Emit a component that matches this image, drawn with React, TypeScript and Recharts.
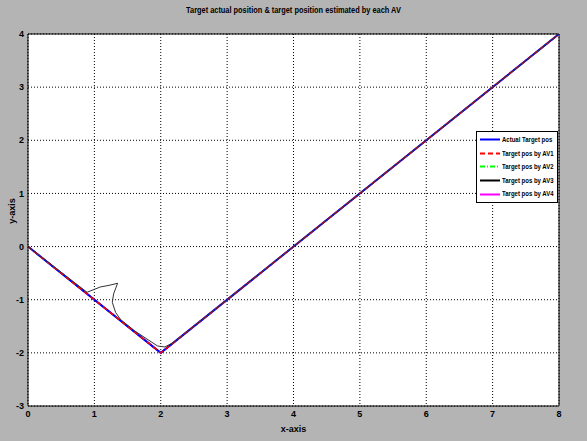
import {
  LineChart,
  Line,
  XAxis,
  YAxis,
  CartesianGrid,
  Legend,
  ReferenceLine,
} from "recharts";

const FONT = "'Liberation Sans Narrow', 'Arial Narrow', 'Liberation Sans', Arial, sans-serif";

// actual target path
const actualX = [0, 2, 8];
const actualY = [0, -2, 4];
// AV1 / AV2 / AV4 estimates sit on the actual path
const av1X = [0, 2, 8];
const av1Y = [0, -2, 4];
const av2X = [0, 2, 8];
const av2Y = [0, -2, 4];
const av4X = [0, 2, 8];
const av4Y = [0, -2, 4];
// AV3 has a detour near x=1
const av3X = [0, 0.89, 1.09, 1.22, 1.35, 1.29, 1.27, 1.32, 1.4, 1.6, 1.95, 2.06, 2.2, 8];
const av3Y = [0, -0.86, -0.76, -0.73, -0.69, -0.89, -1.05, -1.24, -1.38, -1.58, -1.87, -1.89, -1.8, 4];

const xTicks = [0, 1, 2, 3, 4, 5, 6, 7, 8];
const yTicks = [-3, -2, -1, 0, 1, 2, 3, 4];

const zip = (xs: number[], ys: number[]) => xs.map((x, i) => ({ x, y: ys[i] }));

const series = [
  { name: "Actual Target pos", color: "#0000ff", dash: "" },
  { name: "Target pos by AV1", color: "#ff0000", dash: "5 3" },
  { name: "Target pos by AV2", color: "#00ff00", dash: "5 2 1 2" },
  { name: "Target pos by AV3", color: "#000000", dash: "" },
  { name: "Target pos by AV4", color: "#ff00ff", dash: "" },
];

const textStyle = { fontFamily: FONT, fontWeight: "bold" as const, fontSize: 9, fill: "#000" };

const LegendBox = () => (
  <div
    style={{
      background: "#fff",
      border: "1px solid #000",
      width: 80,
      height: 68,
      padding: "1px 0",
      fontFamily: FONT,
      fontWeight: "bold",
      fontSize: 7.5,
      lineHeight: "13.6px",
    }}
  >
    {series.map((s) => (
      <div key={s.name} style={{ display: "flex", alignItems: "center", whiteSpace: "nowrap", height: 13.6 }}>
        <svg width={25} height={13} style={{ flex: "none" }}>
          <line x1={3} x2={23} y1={6.5} y2={6.5} stroke={s.color} strokeWidth={2} strokeDasharray={s.dash} />
        </svg>
        <span style={{ display: "inline-block", flex: "none", transform: "scaleX(0.8)", transformOrigin: "left center" }}>
          {s.name}
        </span>
      </div>
    ))}
  </div>
);

export default function App() {
  return (
    <div style={{ position: "fixed", left: 0, top: 0, width: 587, height: 441, background: "#b4b4b4" }}>
      <div
        style={{
          position: "absolute",
          top: 5,
          left: 0,
          width: 587,
          textAlign: "center",
          fontFamily: FONT,
          fontWeight: "bold",
          fontSize: 8.5,
          zIndex: 2,
        }}
      >
        <span style={{ display: "inline-block", transform: "scaleX(0.87)" }}>
          Target actual position &amp; target position estimated by each AV
        </span>
      </div>
      <LineChart width={587} height={441} margin={{ top: 34, right: 28, bottom: 0, left: 0 }}>
        <CartesianGrid stroke="#000" strokeDasharray="1 2" fill="#fff" fillOpacity={1} />
        <XAxis
          type="number"
          dataKey="x"
          domain={[0, 8]}
          ticks={xTicks}
          height={35}
          tickSize={0}
          tickMargin={5}
          stroke="#000"
          tick={textStyle}
          allowDataOverflow
          label={{ value: "x-axis", position: "insideBottom", offset: 9, style: textStyle }}
        />
        <YAxis
          type="number"
          dataKey="y"
          domain={[-3, 4]}
          ticks={yTicks}
          width={28}
          tickSize={0}
          tickMargin={4}
          stroke="#000"
          tick={textStyle}
          allowDataOverflow
          label={{ value: "y-axis", angle: -90, position: "insideLeft", offset: 12, dy: -9, style: { ...textStyle, textAnchor: "middle" } }}
        />
        <ReferenceLine x={8} stroke="#000" />
        <ReferenceLine y={4} stroke="#000" />
        <Line data={zip(av4X, av4Y)} dataKey="y" name={series[4].name} stroke={series[4].color} strokeWidth={1.5} dot={false} isAnimationActive={false} />
        <Line data={zip(av2X, av2Y)} dataKey="y" name={series[2].name} stroke={series[2].color} strokeWidth={1.5} strokeDasharray={series[2].dash} dot={false} isAnimationActive={false} />
        <Line data={zip(actualX, actualY)} dataKey="y" name={series[0].name} stroke={series[0].color} strokeWidth={2} dot={false} isAnimationActive={false} />
        <Line data={zip(av1X, av1Y)} dataKey="y" name={series[1].name} stroke={series[1].color} strokeWidth={1.5} strokeDasharray={series[1].dash} dot={false} isAnimationActive={false} />
        <Line data={zip(av3X, av3Y)} dataKey="y" name={series[3].name} stroke="#333" strokeWidth={1} dot={false} isAnimationActive={false} />
        <Legend
          layout="horizontal"
          verticalAlign="middle"
          align="center"
          content={() => <LegendBox />}
          wrapperStyle={{ position: "absolute", left: 476, top: 131, width: 82, height: 72 }}
        />
      </LineChart>
    </div>
  );
}
